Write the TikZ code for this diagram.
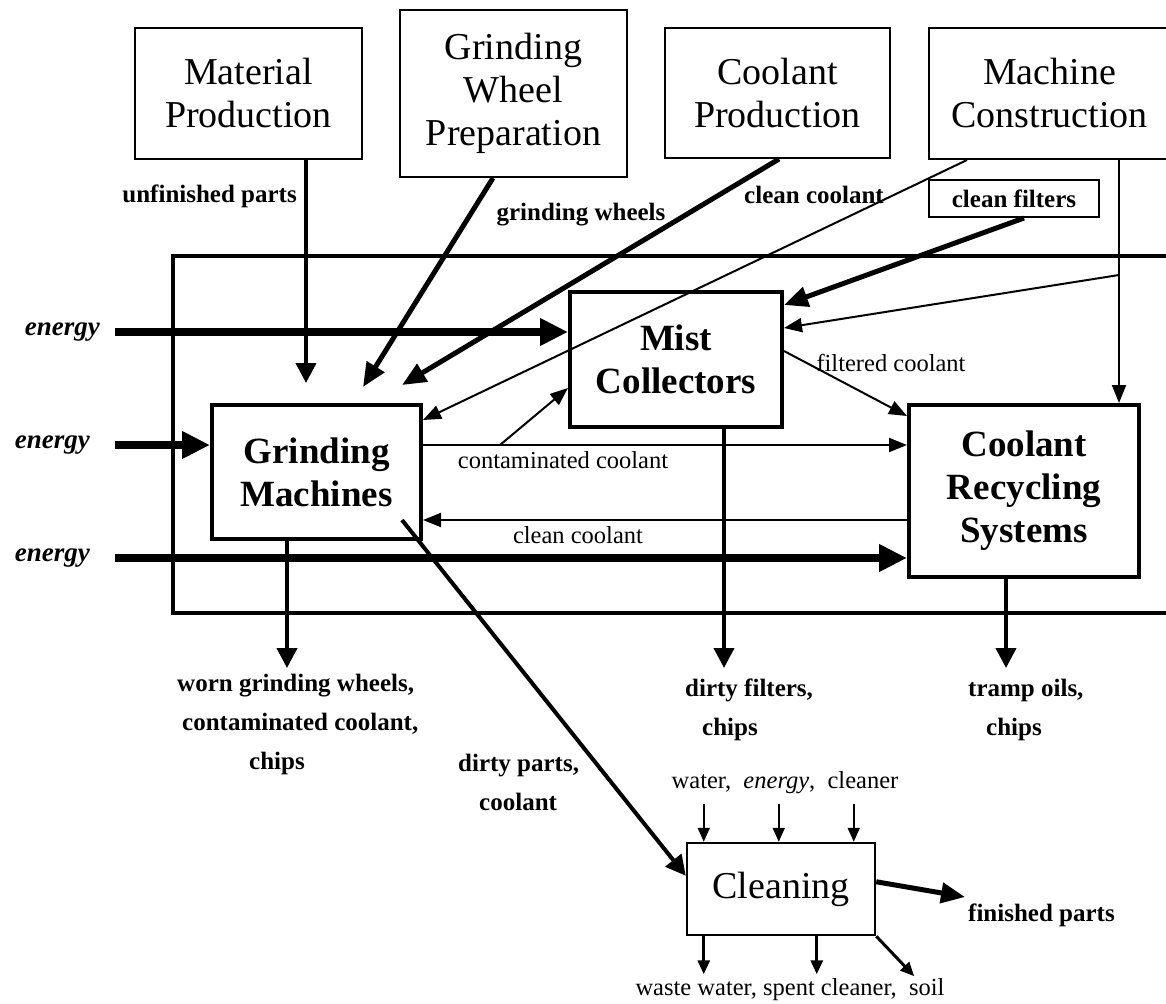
\documentclass[tikz,border=0pt]{standalone}
\usepackage{fontspec}
\setmainfont{Liberation Serif}
\usepackage{tikz}
\usetikzlibrary{arrows.meta, calc, positioning}
\tikzstyle{heavyflow} = [line width=7.5pt, -{Triangle[length=28pt,width=26pt]}]
\tikzstyle{boldflow} = [line width=5pt, -{Triangle[length=24pt,width=20pt]}]
\tikzstyle{midflow} = [line width=4pt, -{Triangle[length=20pt,width=20pt]}]
\tikzstyle{thinflow} = [line width=2pt, -{Triangle[length=18pt,width=14pt]}]
\tikzstyle{tinyflow} = [line width=2pt, -{Triangle[length=14pt,width=12pt]}]
\tikzstyle{srcbox} = [rectangle, draw, line width=2pt, inner sep=0pt, align=center, font=\fontsize{38}{43}\selectfont]
\tikzstyle{procbox} = [rectangle, draw, line width=4pt, inner sep=0pt, align=center, font=\fontsize{37}{43}\selectfont\bfseries]
\tikzstyle{flowlbl} = [inner sep=0pt, font=\fontsize{25}{39}\selectfont\bfseries]
\tikzstyle{notelbl} = [inner sep=0pt, font=\fontsize{24.5}{30}\selectfont]
\tikzstyle{energylbl} = [inner sep=0pt, font=\fontsize{27}{30}\selectfont\bfseries\itshape]

\begin{document}
\begin{tikzpicture}[x=1pt, y=-1pt]
        \fill[white] (0,0) rectangle (1166,1003);
        \useasboundingbox (0,0) rectangle (1166,1003);

        % suppliers
        \node (matprod) [srcbox, minimum width=227pt, minimum height=131pt] at (248.5,93.5) {Material\\Production};
        \node (wheelprep) [srcbox, minimum width=227pt, minimum height=167pt] at (513.5,93.5) {Grinding\\Wheel\\Preparation};
        \node (coolprod) [srcbox, minimum width=225pt, minimum height=130pt] at (777.5,93) {Coolant\\Production};
        \node (machcon) [srcbox, minimum width=241pt, minimum height=131pt] at (1049.5,93.5) {Machine\\Construction};
        \node (filters) [rectangle, draw, line width=2pt, inner sep=0pt, minimum width=170pt, minimum height=37pt, font=\fontsize{25}{30}\selectfont\bfseries] at (1014,198.5) {clean filters};

        % grinding system
        \node (system) [rectangle, draw, line width=4pt, inner sep=0pt, minimum width=997pt, minimum height=357pt] at (671.5,434.5) {};
        \node (mist) [procbox, minimum width=212pt, minimum height=135pt] at (676,359.5) {Mist\\Collectors};
        \node (grind) [procbox, minimum width=209pt, minimum height=134pt] at (316.5,472) {Grinding\\Machines};
        \node (recyc) [procbox, minimum width=230pt, minimum height=172pt] at (1024,491) {Coolant\\Recycling\\Systems};
        \node (clean) [srcbox, line width=2.5pt, minimum width=188pt, minimum height=92pt] at (781,889) {Cleaning};

        \node (nrg1) [energylbl, anchor=east] at (100,332) {energy};
        \node (nrg2) [energylbl, anchor=east] at (90,445) {energy};
        \node (nrg3) [energylbl, anchor=east] at (90,558) {energy};

        \coordinate (unfTip) at (306,383);
        \coordinate (wheelTip) at (363,387);
        \coordinate (coolTip) at (402,385);
        \coordinate (branch) at (1119,275);
        \coordinate (contLevel) at (500,445);
        \coordinate (retLevel) at (600,520);
        \coordinate (wornTip) at (287,668);
        \coordinate (dirtyTip) at (724,668);
        \coordinate (trampTip) at (1006,668);
        \coordinate (finTip) at (965,897);

        % inputs from above
        \draw [midflow] (matprod.south -| unfTip) -- (unfTip);
        \draw [boldflow] ([xshift=-20.5pt]wheelprep.south) -- (wheelTip);
        \draw [boldflow] ([xshift=1.5pt]coolprod.south) -- (coolTip);
        \draw [thinflow] ([xshift=39pt]machcon.south west) -- ([yshift=-17pt]grind.north east);
        \draw [boldflow] ([xshift=10pt]filters.south) -- ([yshift=-15pt]mist.north east);
        \draw [thinflow] (machcon.south -| branch) -- (recyc.north -| branch);
        \draw [thinflow] (branch) -- ([yshift=-38pt]mist.north east);

        % energy
        \draw [heavyflow] ([xshift=15pt]nrg1.east) -- (nrg1 -| mist.west);
        \draw [heavyflow] ([xshift=25pt]nrg2.east) -- (nrg2 -| grind.west);
        \draw [heavyflow] ([xshift=25pt]nrg3.east) -- (nrg3 -| recyc.west);

        % coolant loop
        \draw [thinflow] (grind.east |- contLevel) -- (recyc.west |- contLevel);
        \draw [thinflow] (contLevel) -- ([yshift=-98pt]mist.north west);
        \draw [thinflow] (recyc.west |- retLevel) -- (grind.east |- retLevel);
        \draw [thinflow] ([yshift=-61pt]mist.north east) -- ([yshift=-13pt]recyc.north west);

        % outputs
        \draw [midflow] (grind.south -| wornTip) -- (wornTip);
        \draw [midflow] (mist.south -| dirtyTip) -- (dirtyTip);
        \draw [midflow] (recyc.south -| trampTip) -- (trampTip);
        \draw [midflow] ([shift={(-21pt,21pt)}]grind.south east) -- ([yshift=-34pt]clean.north west);

        % cleaning
        \foreach \dx in {18,93,168}
            \draw [tinyflow] ([xshift=\dx pt, yshift=38pt]clean.north west) -- ([xshift=\dx pt]clean.north west);
        \foreach \dx in {18,131}
            \draw [tinyflow, line width=3pt] ([xshift=\dx pt]clean.south west) -- ([xshift=\dx pt, yshift=-38pt]clean.south west);
        \draw [tinyflow, line width=3pt] (clean.south east) -- ([shift={(38pt,-40pt)}]clean.south east);
        \draw [boldflow] ([yshift=-40pt]clean.north east) -- (finTip);

        % labels
        \node (unflbl) [flowlbl, anchor=east] at (297,196) {unfinished parts};
        \node (wheellbl) [flowlbl] at (581,215) {grinding wheels};
        \node (coollbl) [flowlbl] at (814,195) {clean coolant};
        \node (filtlbl) [notelbl] at (891,363) {filtered coolant};
        \node (contlbl) [notelbl] at (563,460) {contaminated coolant};
        \node (retlbl) [notelbl] at (578,535) {clean coolant};
        \node (wornlbl) [flowlbl, anchor=north west, align=left] at (177,674) {worn grinding wheels,\\\hspace*{5pt}contaminated coolant,\\\hspace*{72pt}chips};
        \node (dirtylbl) [flowlbl, anchor=north west, align=left] at (685,679) {dirty filters,\\\hspace*{17pt}chips};
        \node (tramplbl) [flowlbl, anchor=north west, align=left] at (968,679) {tramp oils,\\\hspace*{18pt}chips};
        \node (partslbl) [flowlbl, anchor=north west, align=left] at (458,754) {dirty parts,\\\hspace*{21pt}coolant};
        \node (inlbl) [notelbl] at (785,783) {water,\ \ \textit{energy},\ \ cleaner};
        \node (outlbl) [notelbl] at (790,990) {waste water, spent cleaner,\ \ soil};
        \node (finlbl) [flowlbl, anchor=west] at (968,915) {finished parts};
    \end{tikzpicture}
\end{document}
